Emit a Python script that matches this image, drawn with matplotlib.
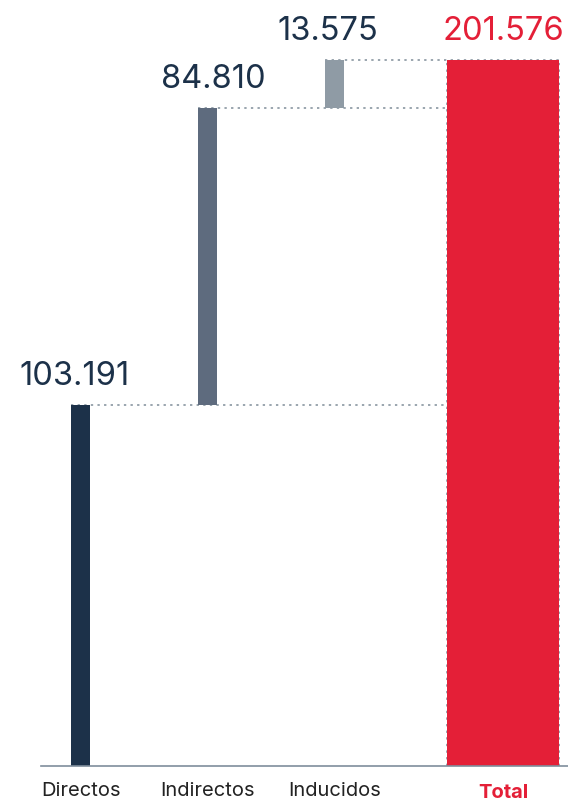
import matplotlib.pyplot as plt

categories = ["Directos", "Indirectos", "Inducidos", "Total"]
values = [103.191, 84.810, 13.575, 201.576]
value_labels = ["103.191", "84.810", "13.575", "201.576"]
colors = ["#1c3149", "#5e6b7e", "#8f9ba5", "#e41f37"]

positions = [0, 1, 2, 3.33]
widths = [0.15, 0.15, 0.15, 0.88]

# waterfall bottoms
bottoms = [0, values[0], values[0] + values[1], 0]

plt.rcParams["font.family"] = ["Inter", "DejaVu Sans"]

fig = plt.figure(figsize=(5.68, 8.01), dpi=100)
ax = fig.add_axes([0, 0, 1, 1])
ax.set_xlim(-0.634, 3.839)
ax.set_ylim(-9.99, 218.7)
ax.axis("off")

dot = dict(color="#9aa5ae", linestyle=(0, (1.2, 2.2)), linewidth=1.4, zorder=1)

label_dx = [-4, 4, -5, 0]
for i, (p, w, v, b, c) in enumerate(zip(positions, widths, values, bottoms, colors)):
    ax.bar(p, v, width=w, bottom=b, color=c, zorder=2)
    ax.annotate(value_labels[i], (p, b + v), xytext=(label_dx[i], 9),
                textcoords="offset points", ha="center", va="bottom",
                fontsize=23.5, color=c if i == 3 else "#1c3149")

tot_l = positions[3] - widths[3] / 2
tot_r = positions[3] + widths[3] / 2
# connectors
ax.plot([positions[0] - widths[0] / 2, tot_l], [bottoms[1]] * 2, **dot)
ax.plot([positions[1] - widths[1] / 2, tot_l], [bottoms[2]] * 2, **dot)
ax.plot([positions[2] - widths[2] / 2, tot_r], [values[3]] * 2, **dot)
ax.plot([tot_l, tot_l], [0, values[3]], **dot)
ax.plot([tot_r, tot_r], [0, values[3]], **dot)

# baseline
ax.plot([-0.31, 3.84], [0, 0], color="#7f8e9c", linewidth=1.2, zorder=3)

for i, (p, cat) in enumerate(zip(positions, categories)):
    if cat == "Total":
        ax.text(p, -7.7, cat, ha="center", va="center", fontsize=14.5,
                fontweight="bold", color=colors[3])
    else:
        ax.text(p, -7.2, cat, ha="center", va="center", fontsize=14.5,
                color="#222222")

fig.savefig("out.png", dpi=100)
